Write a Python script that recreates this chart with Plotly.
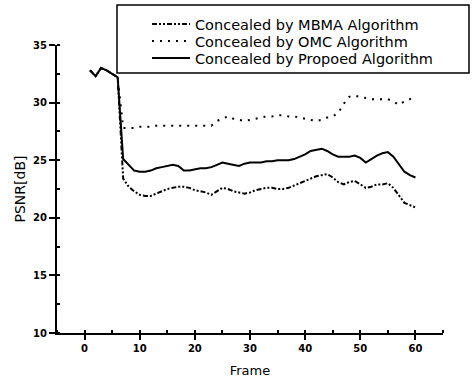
import plotly.graph_objects as go

frames = list(range(1, 61))

mbma = [32.8, 32.3, 33.0, 32.8, 32.5, 32.2, 23.4, 22.7, 22.3, 22.0,
        21.9, 21.9, 22.1, 22.3, 22.5, 22.6, 22.7, 22.7, 22.6, 22.4,
        22.3, 22.2, 22.0, 22.3, 22.6, 22.5, 22.3, 22.2, 22.1, 22.2,
        22.4, 22.5, 22.6, 22.6, 22.5, 22.5, 22.6, 22.8, 23.0, 23.2,
        23.4, 23.6, 23.7, 23.8, 23.5, 23.1, 22.9, 23.1, 23.2, 22.9,
        22.6, 22.7, 22.9, 22.9, 23.0, 22.6, 22.0, 21.3, 21.1, 20.9]

omc = [32.8, 32.3, 33.0, 32.8, 32.5, 32.2, 27.8, 27.8, 27.8, 27.9,
       27.9, 27.9, 28.0, 28.0, 28.0, 28.0, 28.0, 28.0, 28.0, 28.0,
       28.0, 28.0, 28.0, 28.4, 28.6, 28.8, 28.6, 28.5, 28.4, 28.5,
       28.6, 28.7, 28.8, 28.8, 28.9, 28.9, 28.8, 28.8, 28.7, 28.6,
       28.5, 28.4, 28.5, 28.7, 28.8, 29.1, 29.9, 30.5, 30.6, 30.5,
       30.4, 30.3, 30.3, 30.3, 30.3, 30.1, 29.8, 30.1, 30.3, 30.5]

proposed = [32.8, 32.3, 33.0, 32.8, 32.5, 32.2, 25.1, 24.6, 24.1, 24.0,
            24.0, 24.1, 24.3, 24.4, 24.5, 24.6, 24.5, 24.1, 24.1, 24.2,
            24.3, 24.3, 24.4, 24.6, 24.8, 24.7, 24.6, 24.5, 24.7, 24.8,
            24.8, 24.8, 24.9, 24.9, 25.0, 25.0, 25.0, 25.1, 25.3, 25.5,
            25.8, 25.9, 26.0, 25.8, 25.5, 25.3, 25.3, 25.3, 25.4, 25.2,
            24.8, 25.1, 25.4, 25.6, 25.7, 25.3, 24.6, 24.0, 23.7, 23.5]

names = ["Concealed by MBMA Algorithm",
         "Concealed by OMC Algorithm",
         "Concealed by Propoed Algorithm"]

x_ticks = [0, 10, 20, 30, 40, 50, 60]
y_ticks = [10, 15, 20, 25, 30, 35]

fig = go.Figure()
fig.add_trace(go.Scatter(x=frames, y=mbma, mode="lines", name=names[0], legend="legend",
                         line=dict(color="black", width=2, dash="5px,2px,2px,2px,2px,2px")))
fig.add_trace(go.Scatter(x=frames, y=omc, mode="lines", name=names[1], legend="legend2",
                         line=dict(color="black", width=2, dash="2px,6px")))
fig.add_trace(go.Scatter(x=frames, y=proposed, mode="lines", name=names[2], legend="legend3",
                         line=dict(color="black", width=2)))

font = "DejaVu Sans, Arial, sans-serif"
PL, PB, PH, PW = 57, 333, 288, 386


def py(p):
    return (PB - p) / PH


def px(p):
    return (p - PL) / PW


def leg(row_y):
    return dict(x=px(147), y=py(row_y), xanchor="left", yanchor="middle",
                bgcolor="rgba(0,0,0,0)", borderwidth=0,
                font=dict(size=14.5, family=font), itemwidth=38)


fig.update_layout(
    width=475, height=380,
    margin=dict(l=57, r=32, t=45, b=47, autoexpand=False),
    paper_bgcolor="white", plot_bgcolor="white",
    font=dict(family=font, color="black", size=12),
    showlegend=True,
    legend=leg(24), legend2=leg(41), legend3=leg(58),
    shapes=[dict(type="rect", xref="paper", yref="paper",
                 x0=px(117), x1=px(469), y0=py(73), y1=py(5),
                 line=dict(color="black", width=1.5), fillcolor="white",
                 layer="below")],
    xaxis=dict(range=[-5, 65], tickvals=x_ticks, showgrid=False, zeroline=False,
               showline=True, linecolor="black", linewidth=2, automargin=False,
               ticks="outside", ticklen=5, tickwidth=2, tickcolor="black",
               minor=dict(dtick=5, tick0=0, ticks="inside", ticklen=3, tickcolor="black", tickwidth=1.5),
               tickfont=dict(size=10, family=font, weight="bold"),
               title=dict(text="Frame", font=dict(size=13, family=font), standoff=13)),
    yaxis=dict(range=[10, 35], tickvals=y_ticks, showgrid=False, zeroline=False,
               showline=True, linecolor="black", linewidth=2, automargin=False,
               ticks="outside", ticklen=6, tickwidth=2, tickcolor="black",
               minor=dict(dtick=2.5, tick0=0, ticks="inside", ticklen=3, tickcolor="black", tickwidth=1.5),
               tickfont=dict(size=10, family=font, weight="bold"),
               title=dict(text="PSNR[dB]", font=dict(size=14, family=font), standoff=4)),
)

fig.write_html("out.html", config={"displayModeBar": False},
               post_script="document.body.style.margin='0';")
